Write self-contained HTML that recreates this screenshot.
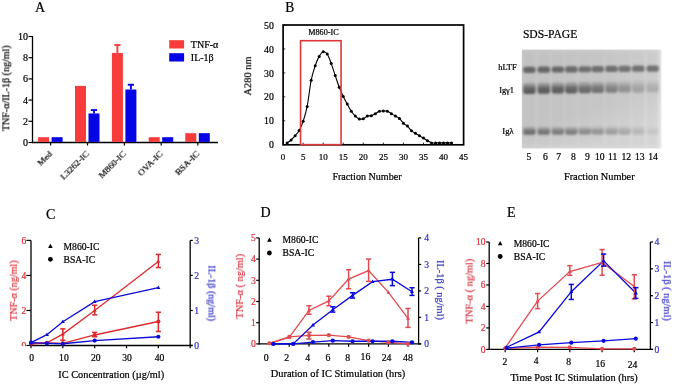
<!DOCTYPE html>
<html><head><meta charset="utf-8"><title>Figure</title>
<style>
html,body{margin:0;padding:0;background:#fff;width:675px;height:385px;overflow:hidden;}
svg{display:block;font-family:"Liberation Serif",serif;-webkit-font-smoothing:antialiased;}
text{will-change:transform;}
</style></head><body>
<svg width="675" height="385" viewBox="0 0 675 385">
<defs>
<linearGradient id="gelbg" x1="0" y1="0" x2="1" y2="0">
<stop offset="0" stop-color="#c8c8c8"/><stop offset="0.6" stop-color="#cccccc"/><stop offset="0.95" stop-color="#d2d2d2"/><stop offset="0.98" stop-color="#d8d8d8"/><stop offset="1" stop-color="#e8e8e8"/>
</linearGradient>
<linearGradient id="gelbg2" x1="0" y1="0" x2="0.4" y2="1">
<stop offset="0" stop-color="#fff" stop-opacity="0"/><stop offset="0.7" stop-color="#fff" stop-opacity="0.03"/><stop offset="1" stop-color="#fff" stop-opacity="0.25"/>
</linearGradient>
<linearGradient id="iggr" x1="0" y1="0" x2="0" y2="1">
<stop offset="0" stop-color="#505050" stop-opacity="0.2"/><stop offset="0.3" stop-color="#4a4a4a" stop-opacity="0.6"/><stop offset="0.5" stop-color="#444" stop-opacity="0.95"/><stop offset="1" stop-color="#3a3a3a"/>
</linearGradient>
<filter id="blur" x="-20%" y="-50%" width="140%" height="200%"><feGaussianBlur stdDeviation="1.1"/></filter>
<filter id="blur2" x="-20%" y="-5%" width="140%" height="110%"><feGaussianBlur stdDeviation="1.5"/></filter>
</defs>
<rect width="675" height="385" fill="#fff"/>
<text x="35.00" y="11.60" font-size="14" text-anchor="start" fill="#000"  stroke="#000" stroke-width="0.22">A</text>
<line x1="32.50" y1="36.00" x2="32.50" y2="143.10" stroke="#000" stroke-width="1.3" />
<line x1="31.90" y1="142.50" x2="218.00" y2="142.50" stroke="#000" stroke-width="1.3" />
<line x1="28.50" y1="142.50" x2="32.50" y2="142.50" stroke="#000" stroke-width="1.2" />
<text x="27.90" y="146.00" font-size="10" text-anchor="end" fill="#000"  stroke="#000" stroke-width="0.22">0</text>
<line x1="28.50" y1="121.30" x2="32.50" y2="121.30" stroke="#000" stroke-width="1.2" />
<text x="27.90" y="124.80" font-size="10" text-anchor="end" fill="#000"  stroke="#000" stroke-width="0.22">2</text>
<line x1="28.50" y1="100.10" x2="32.50" y2="100.10" stroke="#000" stroke-width="1.2" />
<text x="27.90" y="103.60" font-size="10" text-anchor="end" fill="#000"  stroke="#000" stroke-width="0.22">4</text>
<line x1="28.50" y1="78.90" x2="32.50" y2="78.90" stroke="#000" stroke-width="1.2" />
<text x="27.90" y="82.40" font-size="10" text-anchor="end" fill="#000"  stroke="#000" stroke-width="0.22">6</text>
<line x1="28.50" y1="57.70" x2="32.50" y2="57.70" stroke="#000" stroke-width="1.2" />
<text x="27.90" y="61.20" font-size="10" text-anchor="end" fill="#000"  stroke="#000" stroke-width="0.22">8</text>
<line x1="28.50" y1="36.50" x2="32.50" y2="36.50" stroke="#000" stroke-width="1.2" />
<text x="27.90" y="40.00" font-size="10" text-anchor="end" fill="#000"  stroke="#000" stroke-width="0.22">10</text>
<line x1="50.60" y1="142.50" x2="50.60" y2="145.50" stroke="#000" stroke-width="1.2" />
<rect x="38.10" y="137.20" width="11.0" height="4.70" fill="#f73c3b"/>
<rect x="51.60" y="137.20" width="11.0" height="4.70" fill="#0404e4"/>
<text transform="translate(52.80,154.50) rotate(-45)" font-size="9.25" text-anchor="end" fill="#000" stroke="#000" stroke-width="0.22">Med</text>
<line x1="87.50" y1="142.50" x2="87.50" y2="145.50" stroke="#000" stroke-width="1.2" />
<rect x="75.00" y="85.90" width="11.0" height="56.00" fill="#f73c3b"/>
<rect x="88.50" y="113.46" width="11.0" height="28.44" fill="#0404e4"/>
<line x1="94.00" y1="113.46" x2="94.00" y2="110.06" stroke="#0404e4" stroke-width="1.9" />
<line x1="90.90" y1="110.06" x2="97.10" y2="110.06" stroke="#0404e4" stroke-width="1.9" />
<text transform="translate(89.70,154.50) rotate(-45)" font-size="9.25" text-anchor="end" fill="#000" stroke="#000" stroke-width="0.22">L3262-IC</text>
<line x1="124.40" y1="142.50" x2="124.40" y2="145.50" stroke="#000" stroke-width="1.2" />
<rect x="111.90" y="52.93" width="11.0" height="88.97" fill="#f73c3b"/>
<line x1="117.40" y1="52.93" x2="117.40" y2="44.98" stroke="#f73c3b" stroke-width="1.9" />
<line x1="114.30" y1="44.98" x2="120.50" y2="44.98" stroke="#f73c3b" stroke-width="1.9" />
<rect x="125.40" y="89.50" width="11.0" height="52.40" fill="#0404e4"/>
<line x1="130.90" y1="89.50" x2="130.90" y2="84.73" stroke="#0404e4" stroke-width="1.9" />
<line x1="127.80" y1="84.73" x2="134.00" y2="84.73" stroke="#0404e4" stroke-width="1.9" />
<text transform="translate(126.60,154.50) rotate(-45)" font-size="9.25" text-anchor="end" fill="#000" stroke="#000" stroke-width="0.22">M860-IC</text>
<line x1="161.20" y1="142.50" x2="161.20" y2="145.50" stroke="#000" stroke-width="1.2" />
<rect x="148.70" y="137.20" width="11.0" height="4.70" fill="#f73c3b"/>
<rect x="162.20" y="137.20" width="11.0" height="4.70" fill="#0404e4"/>
<text transform="translate(163.40,154.50) rotate(-45)" font-size="9.25" text-anchor="end" fill="#000" stroke="#000" stroke-width="0.22">OVA-IC</text>
<line x1="197.80" y1="142.50" x2="197.80" y2="145.50" stroke="#000" stroke-width="1.2" />
<rect x="185.30" y="133.17" width="11.0" height="8.73" fill="#f73c3b"/>
<rect x="198.80" y="133.17" width="11.0" height="8.73" fill="#0404e4"/>
<text transform="translate(200.00,154.50) rotate(-45)" font-size="9.25" text-anchor="end" fill="#000" stroke="#000" stroke-width="0.22">BSA-IC</text>
<rect x="169.2" y="40.2" width="14.9" height="8.3" fill="#f73c3b"/>
<rect x="169.2" y="53.2" width="14.9" height="8.3" fill="#0404e4"/>
<text x="190.80" y="47.90" font-size="10" text-anchor="start" fill="#000"  stroke="#000" stroke-width="0.22">TNF-α</text>
<text x="190.80" y="60.60" font-size="10" text-anchor="start" fill="#000"  stroke="#000" stroke-width="0.22">IL-1β</text>
<text transform="translate(9.3,88.3) rotate(-90)" font-size="10" text-anchor="middle" fill="#000" stroke="#000" stroke-width="0.22">TNF-α/IL-1β (ng/ml)</text>
<text x="285.20" y="12.00" font-size="13.6" text-anchor="start" fill="#000"  stroke="#000" stroke-width="0.22">B</text>
<line x1="283.10" y1="144.80" x2="285.30" y2="144.80" stroke="#000" stroke-width="0.8" />
<text x="273.90" y="148.40" font-size="9.8" text-anchor="end" fill="#000"  stroke="#000" stroke-width="0.22">0</text>
<line x1="283.10" y1="120.84" x2="285.30" y2="120.84" stroke="#000" stroke-width="0.8" />
<text x="273.90" y="124.44" font-size="9.8" text-anchor="end" fill="#000"  stroke="#000" stroke-width="0.22">10</text>
<line x1="283.10" y1="96.88" x2="285.30" y2="96.88" stroke="#000" stroke-width="0.8" />
<text x="273.90" y="100.48" font-size="9.8" text-anchor="end" fill="#000"  stroke="#000" stroke-width="0.22">20</text>
<line x1="283.10" y1="72.92" x2="285.30" y2="72.92" stroke="#000" stroke-width="0.8" />
<text x="273.90" y="76.52" font-size="9.8" text-anchor="end" fill="#000"  stroke="#000" stroke-width="0.22">30</text>
<line x1="283.10" y1="48.96" x2="285.30" y2="48.96" stroke="#000" stroke-width="0.8" />
<text x="273.90" y="52.56" font-size="9.8" text-anchor="end" fill="#000"  stroke="#000" stroke-width="0.22">40</text>
<line x1="283.10" y1="25.00" x2="285.30" y2="25.00" stroke="#000" stroke-width="0.8" />
<text x="273.90" y="28.60" font-size="9.8" text-anchor="end" fill="#000"  stroke="#000" stroke-width="0.22">50</text>
<line x1="283.10" y1="144.80" x2="283.10" y2="142.60" stroke="#000" stroke-width="0.8" />
<text x="283.10" y="159.60" font-size="9" text-anchor="middle" fill="#000"  stroke="#000" stroke-width="0.22">0</text>
<line x1="303.16" y1="144.80" x2="303.16" y2="142.60" stroke="#000" stroke-width="0.8" />
<text x="303.16" y="159.60" font-size="9" text-anchor="middle" fill="#000"  stroke="#000" stroke-width="0.22">5</text>
<line x1="323.21" y1="144.80" x2="323.21" y2="142.60" stroke="#000" stroke-width="0.8" />
<text x="323.21" y="159.60" font-size="9" text-anchor="middle" fill="#000"  stroke="#000" stroke-width="0.22">10</text>
<line x1="343.27" y1="144.80" x2="343.27" y2="142.60" stroke="#000" stroke-width="0.8" />
<text x="343.27" y="159.60" font-size="9" text-anchor="middle" fill="#000"  stroke="#000" stroke-width="0.22">15</text>
<line x1="363.32" y1="144.80" x2="363.32" y2="142.60" stroke="#000" stroke-width="0.8" />
<text x="363.32" y="159.60" font-size="9" text-anchor="middle" fill="#000"  stroke="#000" stroke-width="0.22">20</text>
<line x1="383.38" y1="144.80" x2="383.38" y2="142.60" stroke="#000" stroke-width="0.8" />
<text x="383.38" y="159.60" font-size="9" text-anchor="middle" fill="#000"  stroke="#000" stroke-width="0.22">25</text>
<line x1="403.43" y1="144.80" x2="403.43" y2="142.60" stroke="#000" stroke-width="0.8" />
<text x="403.43" y="159.60" font-size="9" text-anchor="middle" fill="#000"  stroke="#000" stroke-width="0.22">30</text>
<line x1="423.49" y1="144.80" x2="423.49" y2="142.60" stroke="#000" stroke-width="0.8" />
<text x="423.49" y="159.60" font-size="9" text-anchor="middle" fill="#000"  stroke="#000" stroke-width="0.22">35</text>
<line x1="443.54" y1="144.80" x2="443.54" y2="142.60" stroke="#000" stroke-width="0.8" />
<text x="443.54" y="159.60" font-size="9" text-anchor="middle" fill="#000"  stroke="#000" stroke-width="0.22">40</text>
<line x1="463.60" y1="144.80" x2="463.60" y2="142.60" stroke="#000" stroke-width="0.8" />
<text x="463.60" y="159.60" font-size="9" text-anchor="middle" fill="#000"  stroke="#000" stroke-width="0.22">45</text>
<path d="M287.11,143.12 C287.78,142.60 289.79,141.25 291.12,140.01 C292.46,138.77 293.80,137.29 295.13,135.70 C296.47,134.10 297.81,132.82 299.14,130.42 C300.48,128.03 301.82,125.31 303.16,121.32 C304.49,117.33 305.83,113.29 307.17,106.46 C308.50,99.64 309.84,87.14 311.18,80.35 C312.51,73.56 313.85,69.73 315.19,65.73 C316.53,61.74 317.86,58.70 319.20,56.39 C320.54,54.07 321.87,52.23 323.21,51.84 C324.55,51.44 325.89,52.03 327.22,53.99 C328.56,55.95 329.90,59.98 331.23,63.58 C332.57,67.17 333.91,71.60 335.24,75.56 C336.58,79.51 337.92,83.82 339.26,87.30 C340.59,90.77 341.93,93.61 343.27,96.40 C344.60,99.20 345.94,101.59 347.28,104.07 C348.61,106.54 349.95,109.26 351.29,111.26 C352.63,113.25 353.96,114.77 355.30,116.05 C356.64,117.33 357.97,118.48 359.31,118.92 C360.65,119.36 361.99,119.16 363.32,118.68 C364.66,118.20 366.00,116.53 367.33,116.05 C368.67,115.57 370.01,116.21 371.34,115.81 C372.68,115.41 374.02,114.41 375.36,113.65 C376.69,112.89 378.03,111.70 379.37,111.26 C380.70,110.82 382.04,111.02 383.38,111.02 C384.71,111.02 386.05,110.82 387.39,111.26 C388.73,111.70 390.06,112.85 391.40,113.65 C392.74,114.45 394.07,115.25 395.41,116.05 C396.75,116.85 398.09,117.25 399.42,118.44 C400.76,119.64 402.10,121.96 403.43,123.24 C404.77,124.51 406.11,124.87 407.44,126.11 C408.78,127.35 410.12,129.47 411.46,130.66 C412.79,131.86 414.13,132.46 415.47,133.30 C416.80,134.14 418.14,134.90 419.48,135.70 C420.81,136.49 422.15,137.25 423.49,138.09 C424.83,138.93 426.16,139.93 427.50,140.73 C428.84,141.53 430.17,142.52 431.51,142.88 C432.85,143.24 434.19,142.88 435.52,142.88 C436.86,142.88 438.20,142.88 439.53,142.88 C440.87,142.88 442.21,142.88 443.54,142.88 C444.88,142.88 446.22,142.88 447.56,142.88 C448.89,142.88 450.90,142.88 451.57,142.88" fill="none" stroke="#000" stroke-width="1.1"/>
<circle cx="287.11" cy="143.12" r="1.5" fill="#000"/>
<circle cx="291.12" cy="140.01" r="1.5" fill="#000"/>
<circle cx="295.13" cy="135.70" r="1.5" fill="#000"/>
<circle cx="299.14" cy="130.42" r="1.5" fill="#000"/>
<circle cx="303.16" cy="121.32" r="1.5" fill="#000"/>
<circle cx="307.17" cy="106.46" r="1.5" fill="#000"/>
<circle cx="311.18" cy="80.35" r="1.5" fill="#000"/>
<circle cx="315.19" cy="65.73" r="1.5" fill="#000"/>
<circle cx="319.20" cy="56.39" r="1.5" fill="#000"/>
<circle cx="323.21" cy="51.84" r="1.5" fill="#000"/>
<circle cx="327.22" cy="53.99" r="1.5" fill="#000"/>
<circle cx="331.23" cy="63.58" r="1.5" fill="#000"/>
<circle cx="335.24" cy="75.56" r="1.5" fill="#000"/>
<circle cx="339.26" cy="87.30" r="1.5" fill="#000"/>
<circle cx="343.27" cy="96.40" r="1.5" fill="#000"/>
<circle cx="347.28" cy="104.07" r="1.5" fill="#000"/>
<circle cx="351.29" cy="111.26" r="1.5" fill="#000"/>
<circle cx="355.30" cy="116.05" r="1.5" fill="#000"/>
<circle cx="359.31" cy="118.92" r="1.5" fill="#000"/>
<circle cx="363.32" cy="118.68" r="1.5" fill="#000"/>
<circle cx="367.33" cy="116.05" r="1.5" fill="#000"/>
<circle cx="371.34" cy="115.81" r="1.5" fill="#000"/>
<circle cx="375.36" cy="113.65" r="1.5" fill="#000"/>
<circle cx="379.37" cy="111.26" r="1.5" fill="#000"/>
<circle cx="383.38" cy="111.02" r="1.5" fill="#000"/>
<circle cx="387.39" cy="111.26" r="1.5" fill="#000"/>
<circle cx="391.40" cy="113.65" r="1.5" fill="#000"/>
<circle cx="395.41" cy="116.05" r="1.5" fill="#000"/>
<circle cx="399.42" cy="118.44" r="1.5" fill="#000"/>
<circle cx="403.43" cy="123.24" r="1.5" fill="#000"/>
<circle cx="407.44" cy="126.11" r="1.5" fill="#000"/>
<circle cx="411.46" cy="130.66" r="1.5" fill="#000"/>
<circle cx="415.47" cy="133.30" r="1.5" fill="#000"/>
<circle cx="419.48" cy="135.70" r="1.5" fill="#000"/>
<circle cx="423.49" cy="138.09" r="1.5" fill="#000"/>
<circle cx="427.50" cy="140.73" r="1.5" fill="#000"/>
<circle cx="431.51" cy="142.88" r="1.5" fill="#000"/>
<circle cx="435.52" cy="142.88" r="1.5" fill="#000"/>
<circle cx="439.53" cy="142.88" r="1.5" fill="#000"/>
<circle cx="443.54" cy="142.88" r="1.5" fill="#000"/>
<circle cx="447.56" cy="142.88" r="1.5" fill="#000"/>
<circle cx="451.57" cy="142.88" r="1.5" fill="#000"/>
<rect x="283.1" y="25.0" width="180.50" height="119.80" fill="none" stroke="#000" stroke-width="1.7"/>
<rect x="300.55" y="40.7" width="40.5" height="104.0" fill="none" stroke="#dc3a3a" stroke-width="1.6"/>
<text x="308.20" y="35.40" font-size="8.2" text-anchor="start" fill="#000"  stroke="#000" stroke-width="0.22">M860-IC</text>
<text x="367.00" y="179.80" font-size="10.1" text-anchor="middle" fill="#000"  stroke="#000" stroke-width="0.22">Fraction Number</text>
<text transform="translate(251.2,76.1) rotate(-90)" font-size="10.4" text-anchor="middle" fill="#000" stroke="#000" stroke-width="0.22">A280 nm</text>
<text x="550.10" y="38.40" font-size="11.6" text-anchor="middle" fill="#000"  stroke="#000" stroke-width="0.22">SDS-PAGE</text>
<rect x="521.9" y="49.6" width="139.6" height="98.8" fill="url(#gelbg)"/>
<rect x="521.9" y="49.6" width="139.6" height="98.8" fill="url(#gelbg2)"/>
<g filter="url(#blur2)">
<rect x="523.20" y="52" width="12.4" height="94" fill="#000" opacity="0.035"/>
<rect x="537.60" y="52" width="12.4" height="94" fill="#000" opacity="0.035"/>
<rect x="551.60" y="52" width="12.4" height="94" fill="#000" opacity="0.035"/>
<rect x="565.10" y="52" width="12.4" height="94" fill="#000" opacity="0.035"/>
<rect x="578.60" y="52" width="12.4" height="94" fill="#000" opacity="0.035"/>
<rect x="591.50" y="52" width="12.4" height="94" fill="#000" opacity="0.035"/>
<rect x="605.30" y="52" width="12.4" height="94" fill="#000" opacity="0.035"/>
<rect x="618.40" y="52" width="12.4" height="94" fill="#000" opacity="0.035"/>
<rect x="632.10" y="52" width="12.4" height="94" fill="#000" opacity="0.035"/>
<rect x="646.50" y="52" width="12.4" height="94" fill="#000" opacity="0.035"/>
</g>
<g filter="url(#blur)">
<rect x="523.20" y="66.70" width="12.4" height="6.2" rx="2.6" fill="#404040" opacity="0.7"/>
<rect x="523.20" y="82.40" width="12.4" height="11.6" rx="2.8" fill="url(#iggr)" opacity="0.78"/>
<rect x="523.20" y="126.60" width="12.4" height="8.2" rx="2.6" fill="url(#iggr)" opacity="0.66"/>
<rect x="537.60" y="66.56" width="12.4" height="6.2" rx="2.6" fill="#404040" opacity="0.7"/>
<rect x="537.60" y="82.20" width="12.4" height="11.6" rx="2.8" fill="url(#iggr)" opacity="0.78"/>
<rect x="537.60" y="126.55" width="12.4" height="8.2" rx="2.6" fill="url(#iggr)" opacity="0.6"/>
<rect x="551.60" y="66.42" width="12.4" height="6.2" rx="2.6" fill="#404040" opacity="0.7"/>
<rect x="551.60" y="82.00" width="12.4" height="11.6" rx="2.8" fill="url(#iggr)" opacity="0.78"/>
<rect x="551.60" y="126.50" width="12.4" height="8.2" rx="2.6" fill="url(#iggr)" opacity="0.56"/>
<rect x="565.10" y="66.28" width="12.4" height="6.2" rx="2.6" fill="#404040" opacity="0.68"/>
<rect x="565.10" y="81.80" width="12.4" height="11.6" rx="2.8" fill="url(#iggr)" opacity="0.74"/>
<rect x="565.10" y="126.45" width="12.4" height="8.2" rx="2.6" fill="url(#iggr)" opacity="0.54"/>
<rect x="578.60" y="66.14" width="12.4" height="6.2" rx="2.6" fill="#404040" opacity="0.64"/>
<rect x="578.60" y="81.60" width="12.4" height="11.6" rx="2.8" fill="url(#iggr)" opacity="0.68"/>
<rect x="578.60" y="126.40" width="12.4" height="8.2" rx="2.6" fill="url(#iggr)" opacity="0.46"/>
<rect x="591.50" y="66.00" width="12.4" height="6.2" rx="2.6" fill="#404040" opacity="0.64"/>
<rect x="591.50" y="81.40" width="12.4" height="11.6" rx="2.8" fill="url(#iggr)" opacity="0.62"/>
<rect x="591.50" y="126.35" width="12.4" height="8.2" rx="2.6" fill="url(#iggr)" opacity="0.4"/>
<rect x="605.30" y="65.86" width="12.4" height="6.2" rx="2.6" fill="#404040" opacity="0.64"/>
<rect x="605.30" y="81.20" width="12.4" height="11.6" rx="2.8" fill="url(#iggr)" opacity="0.52"/>
<rect x="605.30" y="126.30" width="12.4" height="8.2" rx="2.6" fill="url(#iggr)" opacity="0.35"/>
<rect x="618.40" y="65.72" width="12.4" height="6.2" rx="2.6" fill="#404040" opacity="0.62"/>
<rect x="618.40" y="81.00" width="12.4" height="11.6" rx="2.8" fill="url(#iggr)" opacity="0.4"/>
<rect x="618.40" y="126.25" width="12.4" height="8.2" rx="2.6" fill="url(#iggr)" opacity="0.28"/>
<rect x="632.10" y="65.58" width="12.4" height="6.2" rx="2.6" fill="#404040" opacity="0.64"/>
<rect x="632.10" y="80.80" width="12.4" height="11.6" rx="2.8" fill="url(#iggr)" opacity="0.28"/>
<rect x="632.10" y="126.20" width="12.4" height="8.2" rx="2.6" fill="url(#iggr)" opacity="0.19"/>
<rect x="646.50" y="65.44" width="12.4" height="6.2" rx="2.6" fill="#404040" opacity="0.64"/>
<rect x="646.50" y="80.60" width="12.4" height="11.6" rx="2.8" fill="url(#iggr)" opacity="0.22"/>
<rect x="646.50" y="126.15" width="12.4" height="8.2" rx="2.6" fill="url(#iggr)" opacity="0.1"/>
</g>
<text x="529.00" y="160.30" font-size="9.6" text-anchor="middle" fill="#000"  stroke="#000" stroke-width="0.22">5</text>
<text x="545.30" y="160.30" font-size="9.6" text-anchor="middle" fill="#000"  stroke="#000" stroke-width="0.22">6</text>
<text x="558.70" y="160.30" font-size="9.6" text-anchor="middle" fill="#000"  stroke="#000" stroke-width="0.22">7</text>
<text x="573.30" y="160.30" font-size="9.6" text-anchor="middle" fill="#000"  stroke="#000" stroke-width="0.22">8</text>
<text x="587.50" y="160.30" font-size="9.6" text-anchor="middle" fill="#000"  stroke="#000" stroke-width="0.22">9</text>
<text x="599.70" y="160.30" font-size="9.6" text-anchor="middle" fill="#000"  stroke="#000" stroke-width="0.22">10</text>
<text x="612.70" y="160.30" font-size="9.6" text-anchor="middle" fill="#000"  stroke="#000" stroke-width="0.22">11</text>
<text x="626.30" y="160.30" font-size="9.6" text-anchor="middle" fill="#000"  stroke="#000" stroke-width="0.22">12</text>
<text x="639.70" y="160.30" font-size="9.6" text-anchor="middle" fill="#000"  stroke="#000" stroke-width="0.22">13</text>
<text x="653.00" y="160.30" font-size="9.6" text-anchor="middle" fill="#000"  stroke="#000" stroke-width="0.22">14</text>
<text x="516.60" y="69.80" font-size="8.4" text-anchor="end" fill="#000"  stroke="#000" stroke-width="0.22">hLTF</text>
<text x="514.00" y="93.20" font-size="8.4" text-anchor="end" fill="#000"  stroke="#000" stroke-width="0.22">Igγ1</text>
<text x="513.60" y="134.00" font-size="8.6" text-anchor="end" fill="#000"  stroke="#000" stroke-width="0.22">Igλ</text>
<text x="599.30" y="180.00" font-size="10.3" text-anchor="middle" fill="#000"  stroke="#000" stroke-width="0.22">Fraction Number</text>
<text x="46.00" y="218.70" font-size="14" text-anchor="start" fill="#000"  stroke="#000" stroke-width="0.22">C</text>
<line x1="31.00" y1="240.40" x2="31.00" y2="346.10" stroke="#000" stroke-width="1.3" />
<line x1="30.40" y1="345.50" x2="192.60" y2="345.50" stroke="#000" stroke-width="1.3" />
<line x1="190.20" y1="240.40" x2="190.20" y2="346.10" stroke="#000" stroke-width="1.3" />
<line x1="26.40" y1="345.50" x2="31.00" y2="345.50" stroke="#000" stroke-width="1.2" />
<text x="26.40" y="348.80" font-size="9.6" text-anchor="end" fill="#dd3038"  stroke="#dd3038" stroke-width="0.22">0</text>
<line x1="26.40" y1="310.47" x2="31.00" y2="310.47" stroke="#000" stroke-width="1.2" />
<text x="26.40" y="313.77" font-size="9.6" text-anchor="end" fill="#dd3038"  stroke="#dd3038" stroke-width="0.22">2</text>
<line x1="26.40" y1="275.43" x2="31.00" y2="275.43" stroke="#000" stroke-width="1.2" />
<text x="26.40" y="278.73" font-size="9.6" text-anchor="end" fill="#dd3038"  stroke="#dd3038" stroke-width="0.22">4</text>
<line x1="26.40" y1="240.40" x2="31.00" y2="240.40" stroke="#000" stroke-width="1.2" />
<text x="26.40" y="243.70" font-size="9.6" text-anchor="end" fill="#dd3038"  stroke="#dd3038" stroke-width="0.22">6</text>
<rect x="17" y="346.2" width="12.6" height="6" fill="#fff"/>
<line x1="190.20" y1="345.50" x2="192.80" y2="345.50" stroke="#000" stroke-width="1.2" />
<text x="194.20" y="348.80" font-size="9.6" text-anchor="start" fill="#3535c8"  stroke="#3535c8" stroke-width="0.22">0</text>
<line x1="190.20" y1="310.47" x2="192.80" y2="310.47" stroke="#000" stroke-width="1.2" />
<text x="194.20" y="313.77" font-size="9.6" text-anchor="start" fill="#3535c8"  stroke="#3535c8" stroke-width="0.22">1</text>
<line x1="190.20" y1="275.43" x2="192.80" y2="275.43" stroke="#000" stroke-width="1.2" />
<text x="194.20" y="278.73" font-size="9.6" text-anchor="start" fill="#3535c8"  stroke="#3535c8" stroke-width="0.22">2</text>
<line x1="190.20" y1="240.40" x2="192.80" y2="240.40" stroke="#000" stroke-width="1.2" />
<text x="194.20" y="243.70" font-size="9.6" text-anchor="start" fill="#3535c8"  stroke="#3535c8" stroke-width="0.22">3</text>
<line x1="31.00" y1="345.50" x2="31.00" y2="348.30" stroke="#000" stroke-width="1.2" />
<line x1="62.84" y1="345.50" x2="62.84" y2="348.30" stroke="#000" stroke-width="1.2" />
<line x1="94.68" y1="345.50" x2="94.68" y2="348.30" stroke="#000" stroke-width="1.2" />
<line x1="126.52" y1="345.50" x2="126.52" y2="348.30" stroke="#000" stroke-width="1.2" />
<line x1="158.36" y1="345.50" x2="158.36" y2="348.30" stroke="#000" stroke-width="1.2" />
<line x1="190.20" y1="345.50" x2="190.20" y2="348.30" stroke="#000" stroke-width="1.2" />
<text x="31.60" y="360.60" font-size="9.6" text-anchor="middle" fill="#000"  stroke="#000" stroke-width="0.22">0</text>
<text x="63.90" y="360.60" font-size="9.6" text-anchor="middle" fill="#000"  stroke="#000" stroke-width="0.22">10</text>
<text x="95.80" y="360.60" font-size="9.6" text-anchor="middle" fill="#000"  stroke="#000" stroke-width="0.22">20</text>
<text x="127.10" y="360.60" font-size="9.6" text-anchor="middle" fill="#000"  stroke="#000" stroke-width="0.22">30</text>
<text x="159.50" y="360.60" font-size="9.6" text-anchor="middle" fill="#000"  stroke="#000" stroke-width="0.22">40</text>
<text x="111.20" y="378.00" font-size="10.35" text-anchor="middle" fill="#000"  stroke="#000" stroke-width="0.22">IC Concentration (µg/ml)</text>
<text transform="translate(16.9,290.6) rotate(-90)" font-size="10.1" text-anchor="middle" fill="#dd3038" stroke="#dd3038" stroke-width="0.22">TNF-α (ng/ml)</text>
<text transform="translate(208.4,293.3) rotate(90)" font-size="10.1" text-anchor="middle" fill="#3535c8" stroke="#3535c8" stroke-width="0.22">IL-1β (ng/ml)</text>
<polyline points="31.00,343.75 46.92,342.87 62.84,334.11 94.68,310.47 158.36,261.42" fill="none" stroke="#de2a2e" stroke-width="1.3"/>
<polyline points="31.00,343.75 46.92,342.87 62.84,343.40 94.68,334.99 158.36,321.50" fill="none" stroke="#de2a2e" stroke-width="1.3"/>
<polyline points="31.00,342.70 46.92,334.64 62.84,321.68 94.68,301.71 158.36,287.69" fill="none" stroke="#0c0cd8" stroke-width="1.3"/>
<polyline points="31.00,342.70 46.92,343.40 62.84,343.75 94.68,340.60 158.36,336.74" fill="none" stroke="#0c0cd8" stroke-width="1.3"/>
<path d="M31.00,341.52 L33.00,345.12 L29.00,345.12 Z" fill="#de2a2e"/>
<path d="M46.92,340.64 L48.92,344.24 L44.92,344.24 Z" fill="#de2a2e"/>
<path d="M62.84,331.88 L64.84,335.48 L60.84,335.48 Z" fill="#de2a2e"/>
<line x1="62.84" y1="340.25" x2="62.84" y2="328.86" stroke="#de2a2e" stroke-width="1.5" />
<line x1="60.24" y1="340.25" x2="65.44" y2="340.25" stroke="#de2a2e" stroke-width="1.5" />
<line x1="60.24" y1="328.86" x2="65.44" y2="328.86" stroke="#de2a2e" stroke-width="1.5" />
<path d="M94.68,308.23 L96.68,311.83 L92.68,311.83 Z" fill="#de2a2e"/>
<line x1="94.68" y1="314.85" x2="94.68" y2="305.21" stroke="#de2a2e" stroke-width="1.5" />
<line x1="92.08" y1="314.85" x2="97.28" y2="314.85" stroke="#de2a2e" stroke-width="1.5" />
<line x1="92.08" y1="305.21" x2="97.28" y2="305.21" stroke="#de2a2e" stroke-width="1.5" />
<path d="M158.36,259.19 L160.36,262.79 L156.36,262.79 Z" fill="#de2a2e"/>
<line x1="158.36" y1="267.55" x2="158.36" y2="254.41" stroke="#de2a2e" stroke-width="1.5" />
<line x1="155.76" y1="267.55" x2="160.96" y2="267.55" stroke="#de2a2e" stroke-width="1.5" />
<line x1="155.76" y1="254.41" x2="160.96" y2="254.41" stroke="#de2a2e" stroke-width="1.5" />
<circle cx="31.00" cy="343.75" r="2.1" fill="#de2a2e"/>
<circle cx="46.92" cy="342.87" r="2.1" fill="#de2a2e"/>
<circle cx="62.84" cy="343.40" r="2.1" fill="#de2a2e"/>
<circle cx="94.68" cy="334.99" r="2.1" fill="#de2a2e"/>
<line x1="94.68" y1="336.74" x2="94.68" y2="332.36" stroke="#de2a2e" stroke-width="1.5" />
<line x1="92.08" y1="336.74" x2="97.28" y2="336.74" stroke="#de2a2e" stroke-width="1.5" />
<line x1="92.08" y1="332.36" x2="97.28" y2="332.36" stroke="#de2a2e" stroke-width="1.5" />
<circle cx="158.36" cy="321.50" r="2.1" fill="#de2a2e"/>
<line x1="158.36" y1="331.49" x2="158.36" y2="312.22" stroke="#de2a2e" stroke-width="1.5" />
<line x1="155.76" y1="331.49" x2="160.96" y2="331.49" stroke="#de2a2e" stroke-width="1.5" />
<line x1="155.76" y1="312.22" x2="160.96" y2="312.22" stroke="#de2a2e" stroke-width="1.5" />
<path d="M31.00,340.47 L33.00,344.07 L29.00,344.07 Z" fill="#0c0cd8"/>
<path d="M46.92,332.41 L48.92,336.01 L44.92,336.01 Z" fill="#0c0cd8"/>
<path d="M62.84,319.45 L64.84,323.05 L60.84,323.05 Z" fill="#0c0cd8"/>
<path d="M94.68,299.48 L96.68,303.08 L92.68,303.08 Z" fill="#0c0cd8"/>
<path d="M158.36,285.46 L160.36,289.06 L156.36,289.06 Z" fill="#0c0cd8"/>
<circle cx="31.00" cy="342.70" r="2.1" fill="#0c0cd8"/>
<circle cx="46.92" cy="343.40" r="2.1" fill="#0c0cd8"/>
<circle cx="62.84" cy="343.75" r="2.1" fill="#0c0cd8"/>
<circle cx="94.68" cy="340.60" r="2.1" fill="#0c0cd8"/>
<circle cx="158.36" cy="336.74" r="2.1" fill="#0c0cd8"/>
<path d="M50.40,243.83 L52.70,247.97 L48.10,247.97 Z" fill="#000"/>
<circle cx="50.40" cy="259.30" r="2.4" fill="#000"/>
<text x="63.60" y="249.60" font-size="9.6" text-anchor="start" fill="#000"  stroke="#000" stroke-width="0.22">M860-IC</text>
<text x="63.60" y="262.50" font-size="9.6" text-anchor="start" fill="#000"  stroke="#000" stroke-width="0.22">BSA-IC</text>
<text x="260.50" y="217.00" font-size="14" text-anchor="start" fill="#000"  stroke="#000" stroke-width="0.22">D</text>
<line x1="259.20" y1="237.90" x2="259.20" y2="344.50" stroke="#000" stroke-width="1.3" />
<line x1="258.60" y1="343.90" x2="421.20" y2="343.90" stroke="#000" stroke-width="1.3" />
<line x1="418.60" y1="237.90" x2="418.60" y2="344.50" stroke="#000" stroke-width="1.3" />
<line x1="256.20" y1="343.90" x2="259.20" y2="343.90" stroke="#000" stroke-width="1.2" />
<text x="255.80" y="347.20" font-size="9.6" text-anchor="end" fill="#dc3540"  stroke="#dc3540" stroke-width="0.22">0</text>
<line x1="256.20" y1="322.70" x2="259.20" y2="322.70" stroke="#000" stroke-width="1.2" />
<text x="255.80" y="326.00" font-size="9.6" text-anchor="end" fill="#dc3540"  stroke="#dc3540" stroke-width="0.22">1</text>
<line x1="256.20" y1="301.50" x2="259.20" y2="301.50" stroke="#000" stroke-width="1.2" />
<text x="255.80" y="304.80" font-size="9.6" text-anchor="end" fill="#dc3540"  stroke="#dc3540" stroke-width="0.22">2</text>
<line x1="256.20" y1="280.30" x2="259.20" y2="280.30" stroke="#000" stroke-width="1.2" />
<text x="255.80" y="283.60" font-size="9.6" text-anchor="end" fill="#dc3540"  stroke="#dc3540" stroke-width="0.22">3</text>
<line x1="256.20" y1="259.10" x2="259.20" y2="259.10" stroke="#000" stroke-width="1.2" />
<text x="255.80" y="262.40" font-size="9.6" text-anchor="end" fill="#dc3540"  stroke="#dc3540" stroke-width="0.22">4</text>
<line x1="256.20" y1="237.90" x2="259.20" y2="237.90" stroke="#000" stroke-width="1.2" />
<text x="255.80" y="241.20" font-size="9.6" text-anchor="end" fill="#dc3540"  stroke="#dc3540" stroke-width="0.22">5</text>
<line x1="418.60" y1="343.90" x2="421.20" y2="343.90" stroke="#000" stroke-width="1.2" />
<text x="424.20" y="347.20" font-size="9.6" text-anchor="start" fill="#3535c8"  stroke="#3535c8" stroke-width="0.22">0</text>
<line x1="418.60" y1="317.40" x2="421.20" y2="317.40" stroke="#000" stroke-width="1.2" />
<text x="424.20" y="320.70" font-size="9.6" text-anchor="start" fill="#3535c8"  stroke="#3535c8" stroke-width="0.22">1</text>
<line x1="418.60" y1="290.90" x2="421.20" y2="290.90" stroke="#000" stroke-width="1.2" />
<text x="424.20" y="294.20" font-size="9.6" text-anchor="start" fill="#3535c8"  stroke="#3535c8" stroke-width="0.22">2</text>
<line x1="418.60" y1="264.40" x2="421.20" y2="264.40" stroke="#000" stroke-width="1.2" />
<text x="424.20" y="267.70" font-size="9.6" text-anchor="start" fill="#3535c8"  stroke="#3535c8" stroke-width="0.22">3</text>
<line x1="418.60" y1="237.90" x2="421.20" y2="237.90" stroke="#000" stroke-width="1.2" />
<text x="424.20" y="241.20" font-size="9.6" text-anchor="start" fill="#3535c8"  stroke="#3535c8" stroke-width="0.22">4</text>
<line x1="289.20" y1="343.90" x2="289.20" y2="346.70" stroke="#000" stroke-width="1.2" />
<line x1="309.00" y1="343.90" x2="309.00" y2="346.70" stroke="#000" stroke-width="1.2" />
<line x1="328.80" y1="343.90" x2="328.80" y2="346.70" stroke="#000" stroke-width="1.2" />
<line x1="348.60" y1="343.90" x2="348.60" y2="346.70" stroke="#000" stroke-width="1.2" />
<line x1="368.60" y1="343.90" x2="368.60" y2="346.70" stroke="#000" stroke-width="1.2" />
<line x1="388.40" y1="343.90" x2="388.40" y2="346.70" stroke="#000" stroke-width="1.2" />
<line x1="408.00" y1="343.90" x2="408.00" y2="346.70" stroke="#000" stroke-width="1.2" />
<text x="266.10" y="360.60" font-size="9.8" text-anchor="middle" fill="#000"  stroke="#000" stroke-width="0.22">0</text>
<text x="286.80" y="360.60" font-size="9.8" text-anchor="middle" fill="#000"  stroke="#000" stroke-width="0.22">2</text>
<text x="307.70" y="360.60" font-size="9.8" text-anchor="middle" fill="#000"  stroke="#000" stroke-width="0.22">4</text>
<text x="328.00" y="360.60" font-size="9.8" text-anchor="middle" fill="#000"  stroke="#000" stroke-width="0.22">6</text>
<text x="347.60" y="360.60" font-size="9.8" text-anchor="middle" fill="#000"  stroke="#000" stroke-width="0.22">8</text>
<text x="365.40" y="359.60" font-size="9.8" text-anchor="middle" fill="#000"  stroke="#000" stroke-width="0.22">16</text>
<text x="386.60" y="361.30" font-size="9.8" text-anchor="middle" fill="#000"  stroke="#000" stroke-width="0.22">24</text>
<text x="407.90" y="361.30" font-size="9.8" text-anchor="middle" fill="#000"  stroke="#000" stroke-width="0.22">48</text>
<text x="338.00" y="377.00" font-size="10.4" text-anchor="middle" fill="#000"  stroke="#000" stroke-width="0.22">Duration of IC Stimulation (hrs)</text>
<text transform="translate(243.0,286.3) rotate(-90)" font-size="10.4" text-anchor="middle" fill="#dc3540" stroke="#dc3540" stroke-width="0.22">TNF-α ( ng/ml)</text>
<text transform="translate(436.9,290.0) rotate(90)" font-size="10.4" text-anchor="middle" fill="#3535c8" stroke="#3535c8" stroke-width="0.22">IL-1β ( ng/ml)</text>
<polyline points="269.30,343.26 289.20,337.33 309.00,310.40 328.80,300.86 348.60,279.03 368.60,270.55 388.40,292.38 408.00,318.46" fill="none" stroke="#e34a52" stroke-width="1.3"/>
<polyline points="269.30,343.26 289.20,336.90 309.00,335.42 328.80,335.21 348.60,336.90 368.60,340.72 388.40,342.42 408.00,343.90" fill="none" stroke="#e34a52" stroke-width="1.3"/>
<polyline points="273.30,343.90 293.20,343.90 313.00,325.08 332.80,309.71 352.60,295.40 372.60,281.62 392.40,279.24 412.00,291.69" fill="none" stroke="#0808dc" stroke-width="1.3"/>
<polyline points="273.30,343.90 293.20,343.90 313.00,342.04 332.80,340.72 352.60,341.25 372.60,341.25 392.40,341.25 412.00,342.31" fill="none" stroke="#0808dc" stroke-width="1.3"/>
<path d="M269.30,341.03 L271.30,344.63 L267.30,344.63 Z" fill="#e34a52"/>
<path d="M289.20,335.10 L291.20,338.70 L287.20,338.70 Z" fill="#e34a52"/>
<path d="M309.00,308.17 L311.00,311.77 L307.00,311.77 Z" fill="#e34a52"/>
<line x1="309.00" y1="314.22" x2="309.00" y2="305.74" stroke="#e34a52" stroke-width="1.5" />
<line x1="306.40" y1="314.22" x2="311.60" y2="314.22" stroke="#e34a52" stroke-width="1.5" />
<line x1="306.40" y1="305.74" x2="311.60" y2="305.74" stroke="#e34a52" stroke-width="1.5" />
<path d="M328.80,298.63 L330.80,302.23 L326.80,302.23 Z" fill="#e34a52"/>
<line x1="328.80" y1="305.74" x2="328.80" y2="296.20" stroke="#e34a52" stroke-width="1.5" />
<line x1="326.20" y1="305.74" x2="331.40" y2="305.74" stroke="#e34a52" stroke-width="1.5" />
<line x1="326.20" y1="296.20" x2="331.40" y2="296.20" stroke="#e34a52" stroke-width="1.5" />
<path d="M348.60,276.80 L350.60,280.40 L346.60,280.40 Z" fill="#e34a52"/>
<line x1="348.60" y1="288.78" x2="348.60" y2="269.70" stroke="#e34a52" stroke-width="1.5" />
<line x1="346.00" y1="288.78" x2="351.20" y2="288.78" stroke="#e34a52" stroke-width="1.5" />
<line x1="346.00" y1="269.70" x2="351.20" y2="269.70" stroke="#e34a52" stroke-width="1.5" />
<path d="M368.60,268.32 L370.60,271.92 L366.60,271.92 Z" fill="#e34a52"/>
<line x1="368.60" y1="281.36" x2="368.60" y2="259.10" stroke="#e34a52" stroke-width="1.5" />
<line x1="366.00" y1="281.36" x2="371.20" y2="281.36" stroke="#e34a52" stroke-width="1.5" />
<line x1="366.00" y1="259.10" x2="371.20" y2="259.10" stroke="#e34a52" stroke-width="1.5" />
<path d="M388.40,290.15 L390.40,293.75 L386.40,293.75 Z" fill="#e34a52"/>
<path d="M408.00,316.23 L410.00,319.83 L406.00,319.83 Z" fill="#e34a52"/>
<line x1="408.00" y1="327.36" x2="408.00" y2="308.50" stroke="#e34a52" stroke-width="1.5" />
<line x1="405.40" y1="327.36" x2="410.60" y2="327.36" stroke="#e34a52" stroke-width="1.5" />
<line x1="405.40" y1="308.50" x2="410.60" y2="308.50" stroke="#e34a52" stroke-width="1.5" />
<circle cx="269.30" cy="343.26" r="2.1" fill="#e34a52"/>
<circle cx="289.20" cy="336.90" r="2.1" fill="#e34a52"/>
<circle cx="309.00" cy="335.42" r="2.1" fill="#e34a52"/>
<line x1="309.00" y1="339.02" x2="309.00" y2="332.24" stroke="#e34a52" stroke-width="1.5" />
<line x1="306.40" y1="339.02" x2="311.60" y2="339.02" stroke="#e34a52" stroke-width="1.5" />
<line x1="306.40" y1="332.24" x2="311.60" y2="332.24" stroke="#e34a52" stroke-width="1.5" />
<circle cx="328.80" cy="335.21" r="2.1" fill="#e34a52"/>
<circle cx="348.60" cy="336.90" r="2.1" fill="#e34a52"/>
<circle cx="368.60" cy="340.72" r="2.1" fill="#e34a52"/>
<circle cx="388.40" cy="342.42" r="2.1" fill="#e34a52"/>
<circle cx="408.00" cy="343.90" r="2.1" fill="#e34a52"/>
<path d="M273.30,341.67 L275.30,345.27 L271.30,345.27 Z" fill="#0808dc"/>
<path d="M293.20,341.67 L295.20,345.27 L291.20,345.27 Z" fill="#0808dc"/>
<path d="M313.00,322.85 L315.00,326.45 L311.00,326.45 Z" fill="#0808dc"/>
<path d="M332.80,307.48 L334.80,311.08 L330.80,311.08 Z" fill="#0808dc"/>
<line x1="332.80" y1="312.10" x2="332.80" y2="306.80" stroke="#0808dc" stroke-width="1.5" />
<line x1="330.20" y1="312.10" x2="335.40" y2="312.10" stroke="#0808dc" stroke-width="1.5" />
<line x1="330.20" y1="306.80" x2="335.40" y2="306.80" stroke="#0808dc" stroke-width="1.5" />
<path d="M352.60,293.17 L354.60,296.77 L350.60,296.77 Z" fill="#0808dc"/>
<line x1="352.60" y1="298.06" x2="352.60" y2="292.75" stroke="#0808dc" stroke-width="1.5" />
<line x1="350.00" y1="298.06" x2="355.20" y2="298.06" stroke="#0808dc" stroke-width="1.5" />
<line x1="350.00" y1="292.75" x2="355.20" y2="292.75" stroke="#0808dc" stroke-width="1.5" />
<path d="M372.60,279.39 L374.60,282.99 L370.60,282.99 Z" fill="#0808dc"/>
<path d="M392.40,277.01 L394.40,280.61 L390.40,280.61 Z" fill="#0808dc"/>
<line x1="392.40" y1="285.60" x2="392.40" y2="272.35" stroke="#0808dc" stroke-width="1.5" />
<line x1="389.80" y1="285.60" x2="395.00" y2="285.60" stroke="#0808dc" stroke-width="1.5" />
<line x1="389.80" y1="272.35" x2="395.00" y2="272.35" stroke="#0808dc" stroke-width="1.5" />
<path d="M412.00,289.46 L414.00,293.06 L410.00,293.06 Z" fill="#0808dc"/>
<line x1="412.00" y1="295.40" x2="412.00" y2="287.72" stroke="#0808dc" stroke-width="1.5" />
<line x1="409.40" y1="295.40" x2="414.60" y2="295.40" stroke="#0808dc" stroke-width="1.5" />
<line x1="409.40" y1="287.72" x2="414.60" y2="287.72" stroke="#0808dc" stroke-width="1.5" />
<circle cx="273.30" cy="343.90" r="2.1" fill="#0808dc"/>
<circle cx="293.20" cy="343.90" r="2.1" fill="#0808dc"/>
<circle cx="313.00" cy="342.04" r="2.1" fill="#0808dc"/>
<circle cx="332.80" cy="340.72" r="2.1" fill="#0808dc"/>
<circle cx="352.60" cy="341.25" r="2.1" fill="#0808dc"/>
<circle cx="372.60" cy="341.25" r="2.1" fill="#0808dc"/>
<circle cx="392.40" cy="341.25" r="2.1" fill="#0808dc"/>
<circle cx="412.00" cy="342.31" r="2.1" fill="#0808dc"/>
<path d="M269.40,237.53 L271.70,241.67 L267.10,241.67 Z" fill="#000"/>
<circle cx="269.40" cy="253.00" r="2.4" fill="#000"/>
<text x="282.60" y="243.30" font-size="9.6" text-anchor="start" fill="#000"  stroke="#000" stroke-width="0.22">M860-IC</text>
<text x="282.60" y="256.20" font-size="9.6" text-anchor="start" fill="#000"  stroke="#000" stroke-width="0.22">BSA-IC</text>
<text x="507.00" y="217.20" font-size="14" text-anchor="start" fill="#000"  stroke="#000" stroke-width="0.22">E</text>
<line x1="489.20" y1="242.00" x2="489.20" y2="350.00" stroke="#000" stroke-width="1.3" />
<line x1="488.60" y1="349.40" x2="653.00" y2="349.40" stroke="#000" stroke-width="1.3" />
<line x1="650.40" y1="242.00" x2="650.40" y2="350.00" stroke="#000" stroke-width="1.3" />
<line x1="486.20" y1="349.40" x2="489.20" y2="349.40" stroke="#000" stroke-width="1.2" />
<text x="485.60" y="352.70" font-size="9.6" text-anchor="end" fill="#dc3540"  stroke="#dc3540" stroke-width="0.22">0</text>
<line x1="486.20" y1="327.92" x2="489.20" y2="327.92" stroke="#000" stroke-width="1.2" />
<text x="485.60" y="331.22" font-size="9.6" text-anchor="end" fill="#dc3540"  stroke="#dc3540" stroke-width="0.22">2</text>
<line x1="486.20" y1="306.44" x2="489.20" y2="306.44" stroke="#000" stroke-width="1.2" />
<text x="485.60" y="309.74" font-size="9.6" text-anchor="end" fill="#dc3540"  stroke="#dc3540" stroke-width="0.22">4</text>
<line x1="486.20" y1="284.96" x2="489.20" y2="284.96" stroke="#000" stroke-width="1.2" />
<text x="485.60" y="288.26" font-size="9.6" text-anchor="end" fill="#dc3540"  stroke="#dc3540" stroke-width="0.22">6</text>
<line x1="486.20" y1="263.48" x2="489.20" y2="263.48" stroke="#000" stroke-width="1.2" />
<text x="485.60" y="266.78" font-size="9.6" text-anchor="end" fill="#dc3540"  stroke="#dc3540" stroke-width="0.22">8</text>
<line x1="486.20" y1="242.00" x2="489.20" y2="242.00" stroke="#000" stroke-width="1.2" />
<text x="485.60" y="245.30" font-size="9.6" text-anchor="end" fill="#dc3540"  stroke="#dc3540" stroke-width="0.22">10</text>
<line x1="650.40" y1="349.40" x2="653.00" y2="349.40" stroke="#000" stroke-width="1.2" />
<text x="654.60" y="352.70" font-size="9.6" text-anchor="start" fill="#3535c8"  stroke="#3535c8" stroke-width="0.22">0</text>
<line x1="650.40" y1="322.55" x2="653.00" y2="322.55" stroke="#000" stroke-width="1.2" />
<text x="654.60" y="325.85" font-size="9.6" text-anchor="start" fill="#3535c8"  stroke="#3535c8" stroke-width="0.22">1</text>
<line x1="650.40" y1="295.70" x2="653.00" y2="295.70" stroke="#000" stroke-width="1.2" />
<text x="654.60" y="299.00" font-size="9.6" text-anchor="start" fill="#3535c8"  stroke="#3535c8" stroke-width="0.22">2</text>
<line x1="650.40" y1="268.85" x2="653.00" y2="268.85" stroke="#000" stroke-width="1.2" />
<text x="654.60" y="272.15" font-size="9.6" text-anchor="start" fill="#3535c8"  stroke="#3535c8" stroke-width="0.22">3</text>
<line x1="650.40" y1="242.00" x2="653.00" y2="242.00" stroke="#000" stroke-width="1.2" />
<text x="654.60" y="245.30" font-size="9.6" text-anchor="start" fill="#3535c8"  stroke="#3535c8" stroke-width="0.22">4</text>
<line x1="505.20" y1="349.40" x2="505.20" y2="352.20" stroke="#000" stroke-width="1.2" />
<line x1="537.60" y1="349.40" x2="537.60" y2="352.20" stroke="#000" stroke-width="1.2" />
<line x1="569.80" y1="349.40" x2="569.80" y2="352.20" stroke="#000" stroke-width="1.2" />
<line x1="602.10" y1="349.40" x2="602.10" y2="352.20" stroke="#000" stroke-width="1.2" />
<line x1="634.30" y1="349.40" x2="634.30" y2="352.20" stroke="#000" stroke-width="1.2" />
<text x="505.00" y="365.10" font-size="9.6" text-anchor="middle" fill="#000"  stroke="#000" stroke-width="0.22">2</text>
<text x="536.10" y="364.40" font-size="9.6" text-anchor="middle" fill="#000"  stroke="#000" stroke-width="0.22">4</text>
<text x="568.70" y="365.10" font-size="9.6" text-anchor="middle" fill="#000"  stroke="#000" stroke-width="0.22">8</text>
<text x="600.20" y="366.60" font-size="9.6" text-anchor="middle" fill="#000"  stroke="#000" stroke-width="0.22">16</text>
<text x="632.60" y="367.90" font-size="9.6" text-anchor="middle" fill="#000"  stroke="#000" stroke-width="0.22">24</text>
<text x="574.00" y="381.00" font-size="10.3" text-anchor="middle" fill="#000"  stroke="#000" stroke-width="0.22">Time Post IC Stimulation (hrs)</text>
<text transform="translate(472.6,291.2) rotate(-90)" font-size="10.4" text-anchor="middle" fill="#dc3540" stroke="#dc3540" stroke-width="0.22">TNF-α ( ng/ml)</text>
<text transform="translate(663.8,290.8) rotate(90)" font-size="10.4" text-anchor="middle" fill="#3535c8" stroke="#3535c8" stroke-width="0.22">IL-1β ( ng/ml)</text>
<polyline points="505.20,347.79 537.60,301.07 569.80,271.53 602.10,262.41 634.30,286.57" fill="none" stroke="#e34a52" stroke-width="1.3"/>
<polyline points="505.20,348.33 537.60,347.25 569.80,347.47 602.10,348.86 634.30,348.86" fill="none" stroke="#e34a52" stroke-width="1.3"/>
<polyline points="506.70,347.25 539.10,331.95 571.30,291.67 603.60,260.80 635.80,293.01" fill="none" stroke="#0808dc" stroke-width="1.3"/>
<polyline points="506.70,348.06 539.10,344.84 571.30,342.69 603.60,340.81 635.80,338.66" fill="none" stroke="#0808dc" stroke-width="1.3"/>
<path d="M505.20,345.56 L507.20,349.16 L503.20,349.16 Z" fill="#e34a52"/>
<path d="M537.60,298.84 L539.60,302.44 L535.60,302.44 Z" fill="#e34a52"/>
<line x1="537.60" y1="308.59" x2="537.60" y2="293.55" stroke="#e34a52" stroke-width="1.5" />
<line x1="535.00" y1="308.59" x2="540.20" y2="308.59" stroke="#e34a52" stroke-width="1.5" />
<line x1="535.00" y1="293.55" x2="540.20" y2="293.55" stroke="#e34a52" stroke-width="1.5" />
<path d="M569.80,269.30 L571.80,272.90 L567.80,272.90 Z" fill="#e34a52"/>
<line x1="569.80" y1="275.29" x2="569.80" y2="265.63" stroke="#e34a52" stroke-width="1.5" />
<line x1="567.20" y1="275.29" x2="572.40" y2="275.29" stroke="#e34a52" stroke-width="1.5" />
<line x1="567.20" y1="265.63" x2="572.40" y2="265.63" stroke="#e34a52" stroke-width="1.5" />
<path d="M602.10,260.17 L604.10,263.77 L600.10,263.77 Z" fill="#e34a52"/>
<line x1="602.10" y1="275.29" x2="602.10" y2="249.52" stroke="#e34a52" stroke-width="1.5" />
<line x1="599.50" y1="275.29" x2="604.70" y2="275.29" stroke="#e34a52" stroke-width="1.5" />
<line x1="599.50" y1="249.52" x2="604.70" y2="249.52" stroke="#e34a52" stroke-width="1.5" />
<path d="M634.30,284.34 L636.30,287.94 L632.30,287.94 Z" fill="#e34a52"/>
<line x1="634.30" y1="298.92" x2="634.30" y2="274.76" stroke="#e34a52" stroke-width="1.5" />
<line x1="631.70" y1="298.92" x2="636.90" y2="298.92" stroke="#e34a52" stroke-width="1.5" />
<line x1="631.70" y1="274.76" x2="636.90" y2="274.76" stroke="#e34a52" stroke-width="1.5" />
<circle cx="505.20" cy="348.33" r="2.1" fill="#e34a52"/>
<circle cx="537.60" cy="347.25" r="2.1" fill="#e34a52"/>
<circle cx="569.80" cy="347.47" r="2.1" fill="#e34a52"/>
<circle cx="602.10" cy="348.86" r="2.1" fill="#e34a52"/>
<circle cx="634.30" cy="348.86" r="2.1" fill="#e34a52"/>
<path d="M506.70,345.02 L508.70,348.62 L504.70,348.62 Z" fill="#0808dc"/>
<path d="M539.10,329.72 L541.10,333.32 L537.10,333.32 Z" fill="#0808dc"/>
<path d="M571.30,289.44 L573.30,293.04 L569.30,293.04 Z" fill="#0808dc"/>
<line x1="571.30" y1="299.46" x2="571.30" y2="284.42" stroke="#0808dc" stroke-width="1.5" />
<line x1="568.70" y1="299.46" x2="573.90" y2="299.46" stroke="#0808dc" stroke-width="1.5" />
<line x1="568.70" y1="284.42" x2="573.90" y2="284.42" stroke="#0808dc" stroke-width="1.5" />
<path d="M603.60,258.56 L605.60,262.16 L601.60,262.16 Z" fill="#0808dc"/>
<line x1="603.60" y1="266.16" x2="603.60" y2="254.08" stroke="#0808dc" stroke-width="1.5" />
<line x1="601.00" y1="266.16" x2="606.20" y2="266.16" stroke="#0808dc" stroke-width="1.5" />
<line x1="601.00" y1="254.08" x2="606.20" y2="254.08" stroke="#0808dc" stroke-width="1.5" />
<path d="M635.80,290.78 L637.80,294.38 L633.80,294.38 Z" fill="#0808dc"/>
<line x1="635.80" y1="298.38" x2="635.80" y2="287.64" stroke="#0808dc" stroke-width="1.5" />
<line x1="633.20" y1="298.38" x2="638.40" y2="298.38" stroke="#0808dc" stroke-width="1.5" />
<line x1="633.20" y1="287.64" x2="638.40" y2="287.64" stroke="#0808dc" stroke-width="1.5" />
<circle cx="506.70" cy="348.06" r="2.1" fill="#0808dc"/>
<circle cx="539.10" cy="344.84" r="2.1" fill="#0808dc"/>
<circle cx="571.30" cy="342.69" r="2.1" fill="#0808dc"/>
<circle cx="603.60" cy="340.81" r="2.1" fill="#0808dc"/>
<circle cx="635.80" cy="338.66" r="2.1" fill="#0808dc"/>
<path d="M500.20,241.03 L502.50,245.17 L497.90,245.17 Z" fill="#000"/>
<circle cx="500.20" cy="256.50" r="2.4" fill="#000"/>
<text x="513.80" y="246.80" font-size="9.6" text-anchor="start" fill="#000"  stroke="#000" stroke-width="0.22">M860-IC</text>
<text x="513.80" y="259.70" font-size="9.6" text-anchor="start" fill="#000"  stroke="#000" stroke-width="0.22">BSA-IC</text>
</svg>
</body></html>
